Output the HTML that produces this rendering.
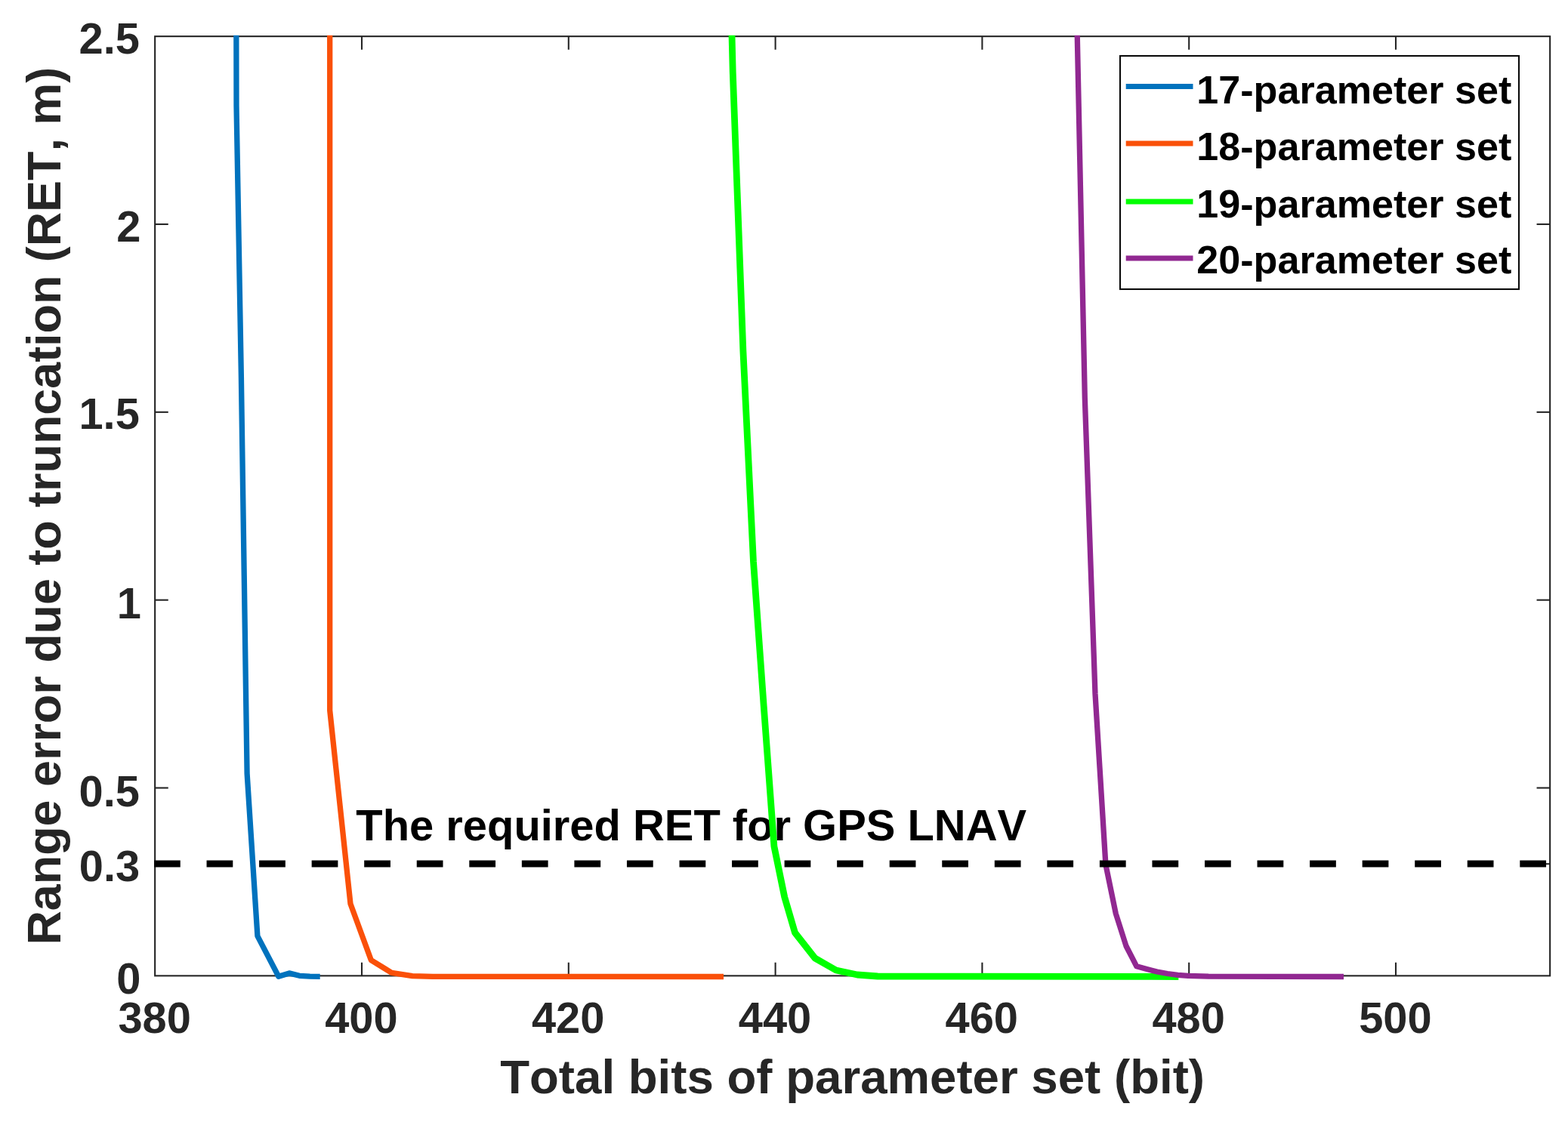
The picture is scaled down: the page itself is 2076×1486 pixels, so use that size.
<!DOCTYPE html>
<html lang="en">
<head>
<meta charset="utf-8">
<title>Range error due to truncation vs total bits of parameter set</title>
<style>
html,body{margin:0;padding:0;background:#fff;}
body{width:2076px;height:1486px;overflow:hidden;}
svg{display:block;}
text{font-family:"Liberation Sans", sans-serif;font-weight:700;font-kerning:none;}
.tick{font-size:57.8px;fill:#262626;}
.lab{font-size:63.6px;fill:#262626;}
.laby{font-size:62.85px;fill:#262626;}
.leg{font-size:52.1px;fill:#000;}
.ann{font-size:57.9px;fill:#000;}
</style>
</head>
<body>
<svg width="2076" height="1486" viewBox="0 0 2076 1486">
<rect x="0" y="0" width="2076" height="1486" fill="#ffffff"/>
<defs><clipPath id="plotclip"><rect x="204.15" y="46.65" width="1849.00" height="1256.20"/></clipPath></defs>
<text class="ann" x="471.3" y="1113.1">The required RET for GPS LNAV</text>
<g id="axes" stroke="#262626" stroke-width="2.1" fill="none" stroke-linecap="butt">
<rect x="205.15" y="48.15" width="1847.00" height="1244.20"/>
<line x1="479.00" y1="1292.35" x2="479.00" y2="1274.75"/>
<line x1="479.00" y1="48.15" x2="479.00" y2="65.75"/>
<line x1="752.80" y1="1292.35" x2="752.80" y2="1274.75"/>
<line x1="752.80" y1="48.15" x2="752.80" y2="65.75"/>
<line x1="1026.60" y1="1292.35" x2="1026.60" y2="1274.75"/>
<line x1="1026.60" y1="48.15" x2="1026.60" y2="65.75"/>
<line x1="1300.40" y1="1292.35" x2="1300.40" y2="1274.75"/>
<line x1="1300.40" y1="48.15" x2="1300.40" y2="65.75"/>
<line x1="1574.20" y1="1292.35" x2="1574.20" y2="1274.75"/>
<line x1="1574.20" y1="48.15" x2="1574.20" y2="65.75"/>
<line x1="1848.00" y1="1292.35" x2="1848.00" y2="1274.75"/>
<line x1="1848.00" y1="48.15" x2="1848.00" y2="65.75"/>
<line x1="205.15" y1="1144.20" x2="222.75" y2="1144.20"/>
<line x1="2052.15" y1="1144.20" x2="2034.55" y2="1144.20"/>
<line x1="205.15" y1="1043.51" x2="222.75" y2="1043.51"/>
<line x1="2052.15" y1="1043.51" x2="2034.55" y2="1043.51"/>
<line x1="205.15" y1="794.67" x2="222.75" y2="794.67"/>
<line x1="2052.15" y1="794.67" x2="2034.55" y2="794.67"/>
<line x1="205.15" y1="545.83" x2="222.75" y2="545.83"/>
<line x1="2052.15" y1="545.83" x2="2034.55" y2="545.83"/>
<line x1="205.15" y1="296.99" x2="222.75" y2="296.99"/>
<line x1="2052.15" y1="296.99" x2="2034.55" y2="296.99"/>
</g>
<g id="series" fill="none" stroke-linejoin="round" stroke-linecap="butt" clip-path="url(#plotclip)">
<polyline points="312.8,30.0 313.0,140.0 319.4,500.0 327.1,1024.6 340.9,1239.6 368.8,1293.2 382.9,1288.9 396.5,1292.3 410.2,1293.2 423.7,1293.3" stroke="#0072BD" stroke-width="7.3"/>
<polyline points="436.7,30.0 436.7,941.0 464.0,1197.0 491.3,1271.6 518.5,1288.4 546.0,1292.6 573.0,1293.3 958.0,1293.5" stroke="#FA5009" stroke-width="7.3"/>
<polyline points="968.6,30.0 970.2,95.0 983.9,465.0 997.5,744.0 1011.2,935.0 1024.9,1120.8 1038.7,1188.0 1052.5,1235.2 1079.2,1269.2 1107.0,1285.0 1135.0,1291.0 1162.0,1293.0 1560.3,1293.5" stroke="#00FF00" stroke-width="8.8"/>
<polyline points="1425.9,30.0 1436.3,527.0 1450.0,919.0 1463.9,1145.0 1477.3,1210.0 1491.0,1253.0 1504.8,1279.8 1518.4,1283.5 1532.0,1287.0 1545.7,1289.5 1559.4,1291.3 1573.1,1292.3 1600.0,1293.2 1779.0,1293.5" stroke="#912891" stroke-width="7.3"/>
</g>
<line id="threshold" x1="204" y1="1143.9" x2="2053" y2="1143.9" stroke="#000" stroke-width="9.0" stroke-dasharray="34.75 34.8"/>
<g id="legend">
<rect x="1483" y="74" width="528" height="309" fill="#fff" stroke="#0a0a0a" stroke-width="2.1"/>
<line x1="1490.7" y1="114.6" x2="1579.5" y2="114.6" stroke="#0072BD" stroke-width="7.0"/>
<text class="leg" x="1584.3" y="136.85">17-parameter set</text>
<line x1="1490.7" y1="189.9" x2="1579.5" y2="189.9" stroke="#FA5009" stroke-width="7.0"/>
<text class="leg" x="1584.3" y="212.1">18-parameter set</text>
<line x1="1490.7" y1="267.0" x2="1579.5" y2="267.0" stroke="#00FF00" stroke-width="7.0"/>
<text class="leg" x="1584.3" y="287.5">19-parameter set</text>
<line x1="1490.7" y1="342.0" x2="1579.5" y2="342.0" stroke="#912891" stroke-width="7.0"/>
<text class="leg" x="1584.3" y="362.2">20-parameter set</text>
</g>
<g id="tick-labels">
<text class="tick" text-anchor="middle" x="204.6" y="1368.2">380</text>
<text class="tick" text-anchor="middle" x="478.4" y="1368.2">400</text>
<text class="tick" text-anchor="middle" x="752.2" y="1368.2">420</text>
<text class="tick" text-anchor="middle" x="1026.0" y="1368.2">440</text>
<text class="tick" text-anchor="middle" x="1299.8" y="1368.2">460</text>
<text class="tick" text-anchor="middle" x="1573.6" y="1368.2">480</text>
<text class="tick" text-anchor="middle" x="1847.4" y="1368.2">500</text>
<text class="tick" text-anchor="end" x="186.3" y="1316.3">0</text>
<text class="tick" text-anchor="end" x="185.1" y="1167.0">0.3</text>
<text class="tick" text-anchor="end" x="184.9" y="1067.5">0.5</text>
<text class="tick" text-anchor="end" x="186.8" y="819.2">1</text>
<text class="tick" text-anchor="end" x="184.8" y="568.4">1.5</text>
<text class="tick" text-anchor="end" x="186.4" y="319.6">2</text>
<text class="tick" text-anchor="end" x="184.9" y="70.6">2.5</text>
</g>
<text class="lab" text-anchor="middle" x="1128.6" y="1448.0">Total bits of parameter set (bit)</text>
<text class="laby" text-anchor="middle" transform="translate(80,670.2) rotate(-90)">Range error due to truncation (RET, m)</text>
</svg>
</body>
</html>
